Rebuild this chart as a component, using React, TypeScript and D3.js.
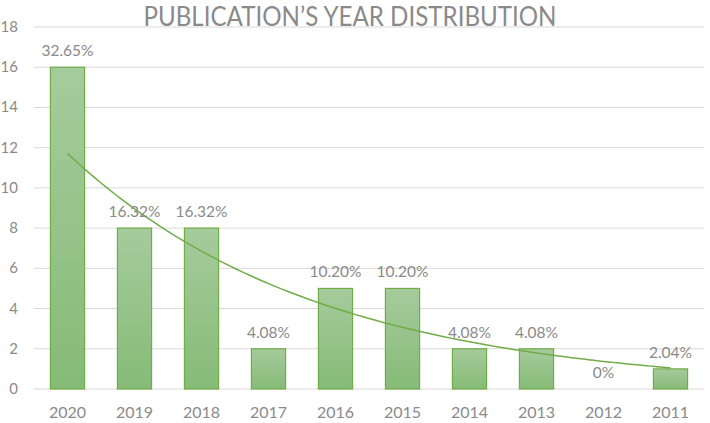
import * as d3 from 'd3';
import { useEffect, useRef } from 'react';

const years = ['2020', '2019', '2018', '2017', '2016', '2015', '2014', '2013', '2012', '2011'];
const counts = [16, 8, 8, 2, 5, 5, 2, 2, 0, 1];
const percentLabels = ['32.65%', '16.32%', '16.32%', '4.08%', '10.20%', '10.20%', '4.08%', '4.08%', '0%', '2.04%'];
const yTicks = [0, 2, 4, 6, 8, 10, 12, 14, 16, 18];

const App = () => {
  const svgRef = useRef<any>();
  const width = 710;
  const height = 423;
  const marginLeft = 34;
  const marginRight = 6;
  const marginTop = 27;
  const marginBottom = 34;
  const font = 'Lato, "Open Sans", sans-serif';
  const textColor = '#8a8a8a';
  const green = '#70ad47';

  useEffect(() => {
    const svg = d3.select(svgRef.current);
    svg.selectAll('*').remove();

    const grad = svg
      .append('defs')
      .append('linearGradient')
      .attr('id', 'barFill')
      .attr('x1', 0)
      .attr('y1', 0)
      .attr('x2', 0)
      .attr('y2', 1);
    grad.append('stop').attr('offset', '0%').attr('stop-color', '#a6cb9c');
    grad.append('stop').attr('offset', '100%').attr('stop-color', '#86bb77');

    const xScale = d3
      .scaleBand()
      .domain(years)
      .range([marginLeft, width - marginRight])
      .paddingInner(0.49)
      .paddingOuter(0.245);

    const yScale = d3
      .scaleLinear()
      .domain([0, 18])
      .range([height - marginBottom, marginTop]);

    // grid lines
    svg
      .append('g')
      .selectAll('line')
      .data(yTicks)
      .enter()
      .append('line')
      .attr('x1', marginLeft)
      .attr('x2', width - marginRight)
      .attr('y1', (d) => yScale(d))
      .attr('y2', (d) => yScale(d))
      .attr('stroke', '#d9d9d9')
      .attr('stroke-width', 1);

    // y axis labels
    svg
      .append('g')
      .selectAll('text')
      .data(yTicks)
      .enter()
      .append('text')
      .attr('x', 18)
      .attr('y', (d) => yScale(d) + 5)
      .attr('text-anchor', 'end')
      .attr('font-family', font)
      .attr('font-size', 15)
      .attr('fill', textColor)
      .text((d) => d);

    // x axis labels
    svg
      .append('g')
      .selectAll('text')
      .data(years)
      .enter()
      .append('text')
      .attr('x', (d) => (xScale(d) as number) + xScale.bandwidth() / 2)
      .attr('y', height - 5)
      .attr('text-anchor', 'middle')
      .attr('font-family', font)
      .attr('font-size', 16)
      .attr('fill', textColor)
      .text((d) => d);

    // bars
    svg
      .append('g')
      .selectAll('rect')
      .data(counts.map((c, i) => ({ c, year: years[i] })).filter((d) => d.c > 0))
      .enter()
      .append('rect')
      .attr('x', (d) => xScale(d.year) as number)
      .attr('y', (d) => yScale(d.c))
      .attr('width', xScale.bandwidth())
      .attr('height', (d) => yScale(0) - yScale(d.c))
      .attr('fill', 'url(#barFill)')
      .attr('stroke', green)
      .attr('stroke-width', 1.2);

    // exponential trendline, least squares on ln(y) (zero values skipped)
    const pts = counts
      .map((c, i) => ({ x: i + 1, c }))
      .filter((d) => d.c > 0);
    const mx = d3.mean(pts, (d) => d.x) as number;
    const my = d3.mean(pts, (d) => Math.log(d.c)) as number;
    const sxy = d3.sum(pts, (d) => (d.x - mx) * (Math.log(d.c) - my));
    const sxx = d3.sum(pts, (d) => (d.x - mx) * (d.x - mx));
    const b = sxy / sxx;
    const a = my - b * mx;
    const trend = d3.range(1, years.length + 0.001, 0.1).map((x) => [x, Math.exp(a + b * x)]);
    const xPos = (x: number) =>
      (xScale(years[0]) as number) + xScale.bandwidth() / 2 + (x - 1) * xScale.step();

    svg
      .append('path')
      .datum(trend)
      .attr('fill', 'none')
      .attr('stroke', green)
      .attr('stroke-width', 1.5)
      .attr(
        'd',
        d3
          .line<number[]>()
          .x((d) => xPos(d[0]))
          .y((d) => yScale(d[1]))
          .curve(d3.curveMonotoneX)
      );

    // data labels
    svg
      .append('g')
      .selectAll('text')
      .data(counts)
      .enter()
      .append('text')
      .attr('x', (d, i) => (xScale(years[i]) as number) + xScale.bandwidth() / 2)
      .attr('y', (d) => yScale(d) - 11)
      .attr('text-anchor', 'middle')
      .attr('font-family', font)
      .attr('font-size', 15.5)
      .attr('fill', textColor)
      .text((d, i) => percentLabels[i]);

    // title
    svg
      .append('text')
      .attr('x', 350)
      .attr('y', 26)
      .attr('text-anchor', 'middle')
      .attr('font-family', font)
      .attr('font-size', 26)
      .attr('fill', textColor)
      .attr('textLength', 413)
      .attr('lengthAdjust', 'spacingAndGlyphs')
      .text('PUBLICATION’S YEAR DISTRIBUTION');
  }, []);

  return (
    <svg
      ref={svgRef}
      width={width}
      height={height}
      style={{ position: 'absolute', left: 0, top: 0, background: '#ffffff' }}
    />
  );
};

export default App;
